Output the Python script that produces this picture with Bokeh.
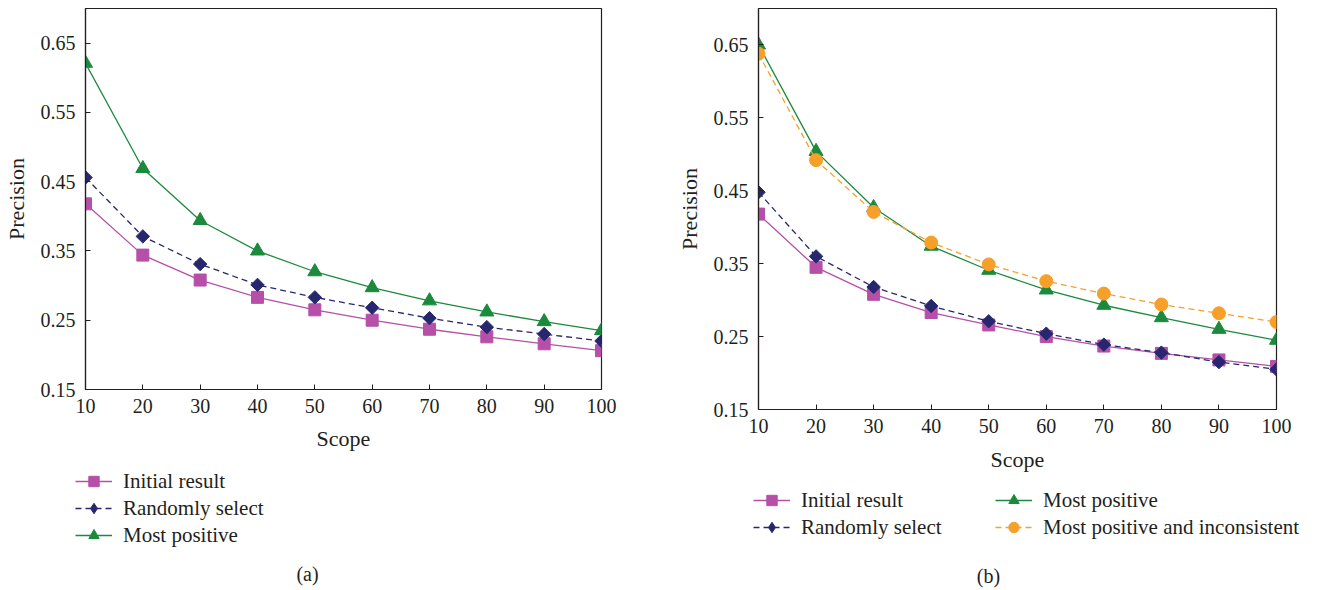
import math
from bokeh.plotting import figure
from bokeh.layouts import row, column
from bokeh.models import Legend, LegendItem, Label, FixedTicker
from bokeh.embed import file_html
from bokeh.resources import INLINE

scope = [10, 20, 30, 40, 50, 60, 70, 80, 90, 100]
y_ticks = [0.15, 0.25, 0.35, 0.45, 0.55, 0.65]

# chart (a)
a_initial = [0.418, 0.344, 0.308, 0.283, 0.265, 0.250, 0.237, 0.226, 0.216, 0.206]
a_random = [0.456, 0.371, 0.331, 0.301, 0.283, 0.268, 0.253, 0.240, 0.230, 0.220]
a_positive = [0.621, 0.469, 0.394, 0.350, 0.320, 0.297, 0.278, 0.262, 0.248, 0.235]

# chart (b)
b_initial = [0.418, 0.345, 0.308, 0.283, 0.266, 0.250, 0.237, 0.227, 0.218, 0.209]
b_random = [0.448, 0.360, 0.318, 0.292, 0.271, 0.254, 0.239, 0.228, 0.215, 0.205]
b_positive = [0.650, 0.504, 0.427, 0.374, 0.341, 0.314, 0.293, 0.276, 0.260, 0.245]
b_inconsistent = [0.638, 0.492, 0.421, 0.379, 0.349, 0.326, 0.309, 0.294, 0.282, 0.270]

labels_a = ["Initial result", "Randomly select", "Most positive"]
labels_b = ["Initial result", "Randomly select", "Most positive", "Most positive and inconsistent"]

MAG = "#b54fa7"
NAVY = "#27276f"
GREEN = "#1b8a3c"
ORANGE = "#f6a02a"
FONT = "Liberation Serif"
TXT = "#231f20"

# colour, dash, marker, size, angle  (chart marks)
STYLES = [(MAG, "solid", "square", 12, 0.0),
          (NAVY, "6 4", "square", 9.5, math.pi / 4),
          (GREEN, "solid", "triangle", 14, 0.0),
          (ORANGE, "6 4", "circle", 13, 0.0)]
# legend samples (legend ignores the angle, so the diamond uses its own marker)
LEG_STYLES = [(MAG, "solid", "square", 12, 0.0),
              (NAVY, "6 4", "diamond", 12, 0.0),
              (GREEN, "solid", "triangle", 14, 0.0),
              (ORANGE, "6 4", "circle", 13, 0.0)]


def make_fig(width, height, bl, br, bb):
    p = figure(width=width, height=height, x_range=(10, 100), y_range=(0.15, 0.70),
               output_backend="svg", toolbar_location=None,
               min_border_left=bl, min_border_right=br, min_border_top=8, min_border_bottom=bb)
    p.grid.visible = False
    p.outline_line_color = "#231f20"
    p.outline_line_width = 1.2
    p.outline_line_alpha = 1.0
    p.background_fill_color = "white"
    p.border_fill_color = "white"
    for ax in (p.xaxis[0], p.yaxis[0]):
        ax.major_tick_in = 5
        ax.major_tick_out = 0
        ax.minor_tick_line_color = None
        ax.axis_line_color = "#231f20"
        ax.axis_line_width = 1.2
        ax.major_tick_line_color = "#231f20"
        ax.major_label_text_font = FONT
        ax.major_label_text_font_size = "20px"
        ax.major_label_text_color = TXT
        ax.axis_label_text_font = FONT
        ax.axis_label_text_font_size = "22px"
        ax.axis_label_text_font_style = "normal"
        ax.axis_label_text_color = TXT
    p.xaxis.ticker = FixedTicker(ticks=scope)
    p.yaxis.ticker = FixedTicker(ticks=y_ticks)
    p.yaxis.formatter.use_scientific = False
    p.xaxis.axis_label = "Scope"
    p.yaxis.axis_label = "Precision"
    p.xaxis.major_label_standoff = 9
    p.yaxis.major_label_standoff = 10
    p.yaxis.axis_label_standoff = 9
    return p


def series(p, y, style):
    color, dash, marker, size, angle = style
    ln = p.line(scope, y, line_color=color, line_width=1.3, line_dash=dash)
    mk = p.scatter(scope, y, marker=marker, size=size, angle=angle,
                   fill_color=color, line_color=color)
    return [ln, mk]


def legend_fig(width, height):
    # a panel that only carries the legend and the caption; its y range lies
    # far away from the series so their (duplicate) marks stay out of view
    f = figure(width=width, height=height, x_range=(0, 1), y_range=(50, 51),
               x_axis_type=None, y_axis_type=None,
               output_backend="svg", toolbar_location=None,
               min_border_left=0, min_border_right=0, min_border_top=0, min_border_bottom=0)
    f.frame_align = False
    f.grid.visible = False
    f.outline_line_color = None
    f.background_fill_color = "white"
    f.border_fill_color = "white"
    return f


def legend_items(f, labels, values, styles):
    items = []
    for lab, y, st in zip(labels, values, styles):
        items.append(LegendItem(label=lab, renderers=series(f, y, st)))
    return items


def style_legend(lg):
    lg.border_line_color = None
    lg.background_fill_alpha = 0
    lg.padding = 0
    lg.margin = 0
    lg.spacing = 1
    lg.glyph_width = 37
    lg.glyph_height = 26
    lg.label_height = 20
    lg.label_standoff = 11
    lg.label_text_font = FONT
    lg.label_text_font_size = "21px"
    lg.label_text_color = TXT


def caption(f, text, x, y):
    f.add_layout(Label(x=x, y=y, x_units="screen", y_units="screen", text=text,
                       text_font=FONT, text_font_size="20px", text_color=TXT,
                       text_align="center", text_baseline="middle"))


# ----- chart (a)
pa = make_fig(668, 460, 83, 67, 71)
pa.xaxis.axis_label_standoff = 10
series(pa, a_initial, STYLES[0])
series(pa, a_random, STYLES[1])
series(pa, a_positive, STYLES[2])

la = legend_fig(668, 130)
leg_a = Legend(items=legend_items(la, labels_a, [a_initial, a_random, a_positive], LEG_STYLES[:3]),
               location=(75, 42))
style_legend(leg_a)
la.add_layout(leg_a, "center")
caption(la, "(a)", 307, 17)

# ----- chart (b)
pb = make_fig(660, 480, 90, 52, 71)
pb.xaxis.axis_label_standoff = 11
series(pb, b_initial, STYLES[0])
series(pb, b_random, STYLES[1])
series(pb, b_positive, STYLES[2])
series(pb, b_inconsistent, STYLES[3])

lb = legend_fig(660, 110)
items_b = legend_items(lb, labels_b, [b_initial, b_random, b_positive, b_inconsistent], LEG_STYLES)
leg_b1 = Legend(items=items_b[:2], location=(85, 50))
leg_b2 = Legend(items=items_b[2:], location=(327, 50))
style_legend(leg_b1)
style_legend(leg_b2)
lb.add_layout(leg_b1, "center")
lb.add_layout(leg_b2, "center")
caption(lb, "(b)", 320, 15)

layout = row(column(pa, la), column(pb, lb))
open("out.html", "w").write(file_html(layout, INLINE))
